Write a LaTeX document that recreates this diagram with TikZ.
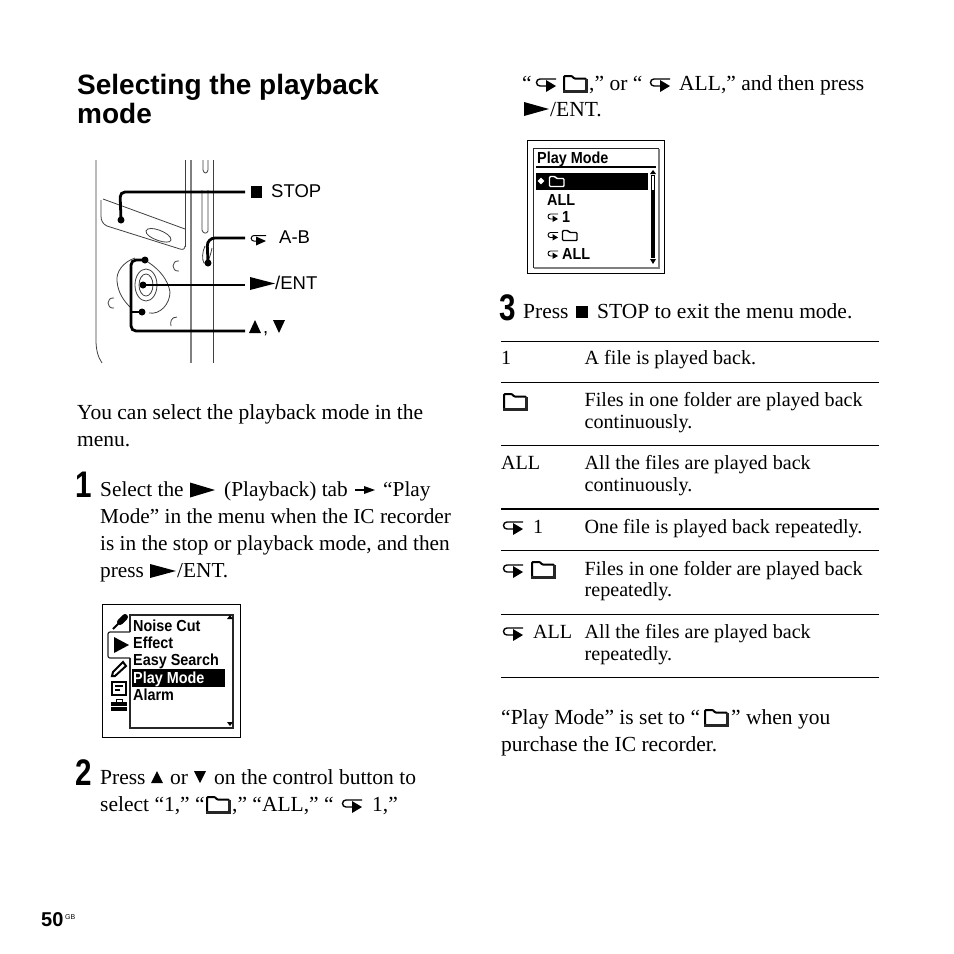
\documentclass[tikz,border=0pt]{standalone}
\usepackage{fontspec}
\setmainfont{Liberation Serif}
\setsansfont{Liberation Sans}
\newfontfamily\menufont[FakeStretch=0.9]{Liberation Sans}
\newfontfamily\stepfont[FakeStretch=0.8]{Liberation Sans}
\usetikzlibrary{shapes}

\tikzset{
  body/.style={anchor=base west, inner sep=0pt, font=\fontsize{21.5}{24}\selectfont},
  tight/.style={anchor=base west, inner sep=0pt, font=\fontsize{21.3}{24}\selectfont},
  cell/.style={anchor=base west, inner sep=0pt, font=\fontsize{20.1}{24}\selectfont},
  head/.style={anchor=base west, inner sep=0pt, font=\fontsize{28}{32}\selectfont\sffamily\bfseries},
  stepnum/.style={anchor=base west, inner sep=0pt, font=\fontsize{37}{40}\selectfont\stepfont\bfseries},
  label/.style={anchor=base west, inner sep=0pt, font=\fontsize{18.5}{20}\selectfont\sffamily},
  menu/.style={anchor=base west, inner sep=0pt, font=\fontsize{16}{18}\selectfont\menufont\bfseries},
  thin line/.style={line width=0.8pt, black!75},
  leader/.style={line width=2.8pt, rounded corners=5pt},
  rule/.style={line width=0.8pt},
  pics/repicon/.style={code={
    \draw[line width=1.4pt] (20,-5) -- (4,-5) arc (-90:-270:3.5) -- (11,2);
    \fill (10,-4) -- (20,2) -- (10,8) -- cycle;
  }},
  pics/foldericon/.style={code={
    \draw[line width=2pt, rounded corners=1pt] (1,7) -- (1,-8) -- (9,-8) -- (11,-5.5) -- (23,-5.5) -- (23,7) -- cycle;
    \fill[black!85] (0,5.5) rectangle (25,9);
    \fill[black!85] (21.5,-5) rectangle (25,9);
  }},
  pics/playicon/.style={code={
    \fill (0,-7.5) -- (25,0) -- (0,7.5) -- cycle;
  }},
  pics/smallrep/.style={code={
    \draw[line width=0.9pt] (10,-3) -- (2.5,-3) arc (-90:-270:2.5) -- (5,2);
    \fill (4.5,-1.5) -- (10,2) -- (4.5,5) -- cycle;
  }},
  pics/smallfolder/.style={code={
    \draw[line width=1.4pt, rounded corners=1pt] (0.5,5) -- (0.5,-5) -- (6,-5) -- (7.5,-3) -- (15,-3) -- (15,5) -- cycle;
  }},
  dot/.style={circle, fill, inner sep=0pt, minimum size=7pt}
}

\begin{document}
\begin{tikzpicture}[x=1pt, y=-1pt]
    \useasboundingbox (0,0) rectangle (954,954);
    \fill[white] (0,0) rectangle (954,954);

    % title
    \node[head] (title1) at (77,94) {Selecting the playback};
    \node[head] (title2) at (77,123) {mode};

    % recorder outline
    \draw[thin line] (96,160) -- (96,340) .. controls (96,350) and (98,357) .. (102,363);
    \draw[line width=1.1pt, black!50] (191,160) -- (191,363);
    \draw[thin line] (213,160) -- (213,363);
    \draw[thin line] (185,160) -- (185,247);
    \draw[thin line] (103,199) -- (185,229);
    \draw[thin line] (101,200) -- (101,216) .. controls (101,221) and (103,224) .. (107,226) -- (180,249) .. controls (183,250) and (185,249) .. (185,246);
    \draw[thin line] (146,231) .. controls (148,224) and (172,233) .. (171,240) .. controls (170,246) and (145,238) .. cycle;
    \draw[thin line] (203,160) -- (203,170) .. controls (204,174) and (207,174) .. (208,170) -- (208,160);
    \draw[thin line] (202,190) -- (202,230) .. controls (203,234) and (207,234) .. (208,231) -- (208,190);
    \draw[thin line] (205,246) .. controls (202,252) and (202,260) .. (204,263) .. controls (207,265) and (210,258) .. (212,248);

    % control button
    \draw[thin line] (135,258) .. controls (123,262) and (116,272) .. (117,281) .. controls (118,293) and (124,301) .. (130,307);
    \draw[thin line] (148,262) .. controls (160,270) and (168,280) .. (170,292) .. controls (170,304) and (160,315) .. (149,313);
    \draw[thin line] (146,285) ellipse (7pt and 11pt);
    \draw[thin line] (146,285) ellipse (11pt and 16pt);
    \draw[thin line] (179,261) .. controls (171,260) and (171,272) .. (179,271);
    \draw[thin line] (114,298) .. controls (106,297) and (106,309) .. (114,308);
    \draw[thin line] (177,317) .. controls (171,317) and (170,322) .. (171,326);

    % connectors to the labels
    \coordinate (stopend) at (245,192);
    \coordinate (abend) at (245,238);
    \coordinate (entend) at (245,285);
    \coordinate (arrowend) at (245,331);
    \node[dot] (stopdot) at (121,220) {};
    \node[dot] (abdot) at (208,263) {};
    \node[dot] (entdot) at (143,285) {};
    \node[dot] (updot) at (145,260) {};
    \node[dot] (downdot) at (142,312) {};
    \draw[leader] (stopdot.center) -- (120,192) -- (stopend);
    \draw[leader, rounded corners=8pt] (abdot.center) -- (207,238) -- (abend);
    \draw[leader] (entdot.center) -- (entend);
    \draw[leader] (updot.center) -- (131,260) -- (131,331) -- (arrowend);
    \draw[leader] (downdot.center) -- (131,312);

    \fill (251,186) rectangle (262,198);
    \node[label] (stoplabel) at (271,197.5) {STOP};
    \draw[line width=1pt] (266,235.5) -- (254,235.5) arc (-90:-270:2.8) -- (257,241);
    \fill (256,236.5) -- (266,241) -- (256,245.5) -- cycle;
    \node[label] (ablabel) at (279,243.5) {A-B};
    \fill (250,277) -- (275,283.5) -- (250,290) -- cycle;
    \node[label] (entlabel) at (275,289) {/ENT};
    \fill (249,333) -- (255,320) -- (261,333) -- cycle;
    \node[label] (commalabel) at (263,333) {,};
    \fill (273,320) -- (285,320) -- (279,333) -- cycle;

    % left column text
    \node[body] (intro1) at (77,419) {You can select the playback mode in the};
    \node[body] (intro2) at (77,446) {menu.};

    \node[stepnum] (stepa) at (75,497) {1};
    \node[tight] (a1) at (100,496) {Select the};
    \pic at (190,490) {playicon};
    \node[tight] (a2) at (224,496) {(Playback) tab};
    \fill (355,489) rectangle (366,491);
    \fill (364,486) -- (375,490) -- (364,494) -- cycle;
    \node[tight] (a3) at (383,496) {“Play};
    \node[tight] (a4) at (100,523) {Mode” in the menu when the IC recorder};
    \node[tight] (a5) at (100,550) {is in the stop or playback mode, and then};
    \node[tight] (a6) at (100,577) {press};
    \fill (150,564) -- (176,571) -- (150,578) -- cycle;
    \node[tight] (a7) at (177,577) {/ENT.};

    % first menu screen
    \draw[line width=1.5pt] (102.5,604.5) rectangle (240.5,737.5);
    \draw[line width=1.2pt, black!85] (130,632) -- (130,615) -- (233,615) -- (233,728) -- (130,728) -- (130,658);
    \draw[line width=1.2pt, black!85, rounded corners=2pt] (130,632) -- (108,632) -- (108,658) -- (130,658);
    \fill (114,637) -- (129,645) -- (114,653) -- cycle;
    \draw[line width=6pt, line cap=round] (120,622) -- (125,617);
    \draw[line width=2pt] (113,629) -- (119,623);
    \draw[line width=2pt] (112,676) -- (115,676) -- (126,666) -- (123,662) -- (113,672) -- cycle;
    \draw[line width=1.5pt] (112,682) rectangle (126,695);
    \fill (115,685) rectangle (123,687);
    \fill (115,689) rectangle (120,691);
    \fill (111,702) rectangle (127,711);
    \fill[white] (111,705.5) rectangle (127,706.5);
    \draw[line width=1pt] (116,702) -- (116,699) -- (122,699) -- (122,702);
    \fill (132,669) rectangle (225,687);
    \node[menu] (m1) at (133,631) {Noise Cut};
    \node[menu] (m2) at (133,648) {Effect};
    \node[menu] (m3) at (133,665) {Easy Search};
    \node[menu, white] (m4) at (133,683) {Play Mode};
    \node[menu] (m5) at (133,700) {Alarm};
    \fill (227,619) -- (233,619) -- (230,615) -- cycle;
    \fill (227,722) -- (233,722) -- (230,726) -- cycle;

    \node[stepnum] (stepb) at (75,785) {2};
    \node[body] (b1) at (100,784) {Press};
    \fill (151,783) -- (157,771) -- (163,783) -- cycle;
    \node[body] (b2) at (170,784) {or};
    \fill (194,771) -- (206,771) -- (200,783) -- cycle;
    \node[body] (b3) at (214,784) {on the control button to};
    \node[body] (b4) at (100,811) {select “1,” “};
    \pic at (206,805) {foldericon};
    \node[body] (b5) at (232,811) {,” “ALL,” “};
    \pic at (342,805) {repicon};
    \node[body] (b6) at (372,811) {1,”};

    % page number
    \node[anchor=base west, inner sep=0pt, font=\fontsize{20}{22}\selectfont\sffamily\bfseries] (pagenum) at (41,926) {50};
    \node[anchor=base west, inner sep=0pt, font=\fontsize{7}{8}\selectfont\sffamily] (pagegb) at (65,919) {GB};

    % right column text
    \node[body] (c1) at (522,90) {“};
    \pic at (536,84) {repicon};
    \pic at (563,84) {foldericon};
    \node[body] (c2) at (589,90) {,” or “};
    \pic at (650,84) {repicon};
    \node[body] (c3) at (679,90) {ALL,” and then press};
    \fill (524,102) -- (549,109) -- (524,116) -- cycle;
    \node[body] (c4) at (550,116) {/ENT.};

    % second menu screen
    \draw[line width=1.5pt] (527.5,140.5) rectangle (664.5,273.5);
    \draw[line width=1pt, black!85] (533,148) rectangle (658,267);
    \draw[line width=1.2pt, black!50] (534,268) -- (659,268) -- (659,149);
    \node[menu] (playtitle) at (537,163) {Play Mode};
    \fill (536,166) rectangle (656,168);
    \fill (536,173) rectangle (648,190);
    \node[diamond, fill=white, inner sep=0pt, minimum size=7pt] (mark) at (541,181) {};
    \pic[white] at (549,181.5) {smallfolder};
    \node[menu] (l1) at (547,205) {ALL};
    \pic at (548,217) {smallrep};
    \node[menu] (l2) at (562,222) {1};
    \pic at (548,235.5) {smallrep};
    \pic at (562,235.5) {smallfolder};
    \pic at (548,254) {smallrep};
    \node[menu] (l3) at (562,259) {ALL};
    \fill (650,174) -- (656,174) -- (653,170) -- cycle;
    \fill (650,259) -- (656,259) -- (653,264) -- cycle;
    \draw[line width=0.7pt] (651.5,175) rectangle (654.5,190);
    \fill (651,190) rectangle (655,258);

    \node[stepnum] (stepc) at (499,320) {3};
    \node[body] (d1) at (523,318) {Press};
    \fill (576,306) rectangle (588,318);
    \node[body] (d2) at (597,318) {STOP to exit the menu mode.};

    % table rules
    \foreach \y in {341,382,445,550,614,677}
      \draw[rule] (501,\y) -- (879,\y);
    \draw[line width=1.6pt] (501,509) -- (879,509);

    % table cells
    \node[cell] (t1) at (501,364) {1};
    \node[cell] (t2) at (584.5,364) {A file is played back.};
    \pic at (503,402) {foldericon};
    \node[cell] (t3) at (584.5,406) {Files in one folder are played back};
    \node[cell] (t4) at (584.5,428) {continuously.};
    \node[cell] (t5) at (501,469) {ALL};
    \node[cell] (t6) at (584.5,469) {All the files are played back};
    \node[cell] (t7) at (584.5,491) {continuously.};
    \pic at (503,527) {repicon};
    \node[cell] (t8) at (533,533) {1};
    \node[cell] (t9) at (584.5,533) {One file is played back repeatedly.};
    \pic at (503,570) {repicon};
    \pic at (531,570) {foldericon};
    \node[cell] (t10) at (584.5,575) {Files in one folder are played back};
    \node[cell] (t11) at (584.5,596) {repeatedly.};
    \pic at (503,633) {repicon};
    \node[cell] (t12) at (533,638) {ALL};
    \node[cell] (t13) at (584.5,638) {All the files are played back};
    \node[cell] (t14) at (584.5,660) {repeatedly.};

    % closing lines
    \node[body] (e1) at (501,724) {“Play Mode” is set to “};
    \pic at (704,718) {foldericon};
    \node[body] (e2) at (731,724) {” when you};
    \node[body] (e3) at (501,751) {purchase the IC recorder.};
\end{tikzpicture}
\end{document}
